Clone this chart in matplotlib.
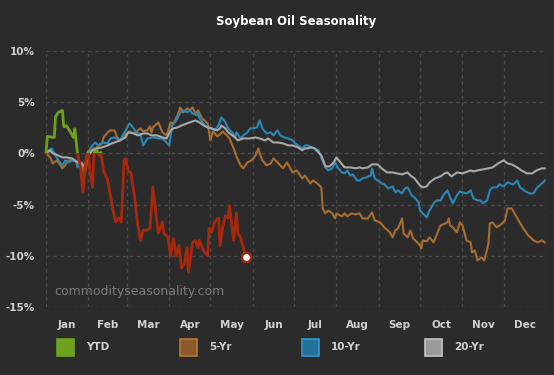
import matplotlib
matplotlib.use("Agg")
import matplotlib.pyplot as plt
from matplotlib.patches import Rectangle

# chart data (day of year, % change from Jan 1)
month_names = ["Jan", "Feb", "Mar", "Apr", "May", "Jun",
               "Jul", "Aug", "Sep", "Oct", "Nov", "Dec"]
month_starts = [0, 31, 59, 90, 120, 151, 181, 212, 243, 273, 304, 334, 365]
y_ticks = [-15, -10, -5, 0, 5, 10]

ytd_days = [0, 1, 6, 7, 9, 12, 13, 15, 18, 20,
            21, 23, 25, 27, 29, 31, 32, 34, 35, 37,
            39, 40, 42, 45, 47, 49, 51, 53, 55, 57,
            58, 60, 62, 65, 67, 69, 71, 74, 76, 78,
            82, 85, 86, 89, 91, 93, 95, 97, 99, 101,
            103, 104, 107, 109, 111, 112, 115, 118, 119, 121,
            123, 126, 127, 129, 131, 133, 134, 137, 139, 140,
            142, 144, 146]
ytd_vals = [0, 1.66, 1.56, 3.6, 4.0, 4.2, 2.6, 2.7, 2.05, 1.56,
            2.4, 0, -1.2, -3.8, -0.7, 0.2, -1.7, -3.3, 0, 0.3,
            -0.2, 0.1, -1.7, -2.6, -4.1, -5.6, -6.7, -6.3, -6.7, -0.7,
            -0.5, -1.7, -1.9, -4.6, -7.0, -8.5, -7.5, -7.5, -7.3, -3.3,
            -7.8, -6.7, -7.8, -8.2, -10.0, -8.3, -10.0, -9.0, -11.2, -10.7,
            -9.2, -11.6, -8.7, -8.5, -9.2, -8.5, -9.5, -10.0, -7.3, -7.7,
            -6.7, -6.3, -9.0, -7.2, -6.1, -6.3, -5.1, -8.5, -5.8, -7.8,
            -8.2, -9.2, -10.1]

yr5_days = [0, 3, 5, 8, 12, 14, 16, 21, 25, 27,
            28, 31, 32, 37, 41, 42, 45, 47, 50, 52,
            54, 56, 59, 61, 64, 66, 69, 71, 74, 76,
            77, 78, 82, 85, 88, 91, 93, 96, 98, 100,
            103, 105, 107, 109, 111, 114, 118, 120, 122, 125,
            127, 129, 132, 134, 137, 139, 142, 144, 147, 150,
            153, 155, 156, 158, 161, 164, 166, 169, 171, 173,
            176, 178, 180, 183, 187, 189, 193, 195, 198, 201,
            202, 204, 206, 209, 211, 212, 216, 218, 220, 223,
            226, 229, 231, 235, 238, 240, 244, 247, 251, 253,
            255, 257, 260, 261, 264, 266, 268, 271, 273, 274,
            275, 278, 280, 283, 285, 288, 290, 293, 294, 295,
            297, 300, 302, 304, 307, 310, 311, 313, 315, 318,
            320, 323, 324, 326, 329, 333, 335, 337, 340, 342,
            345, 348, 352, 356, 359, 362, 364]
yr5_vals = [0, -0.39, -0.98, -0.68, -1.46, -1.17, -0.68, -0.68, -0.98, -1.37,
            -2.34, 0.1, 0.29, 0.59, 0.98, 1.56, 2.05, 2.25, 2.25, 1.56,
            1.27, 1.56, 1.95, 2.15, 1.95, 2.15, 2.44, 2.15, 2.25, 2.64,
            2.05, 2.54, 3.03, 2.05, 1.76, 3.03, 2.93, 3.71, 4.49, 4.0,
            4.39, 4.2, 4.49, 3.9, 4.2, 3.42, 2.93, 1.27, 2.15, 1.66,
            1.86, 2.15, 1.76, 1.46, 0.49, -0.29, -1.17, -1.46, -0.88, -0.68,
            -0.2, 0.49, 0, -0.68, -1.17, -0.98, -0.49, -0.88, -1.17, -1.46,
            -0.88, -1.37, -1.86, -1.66, -2.44, -2.15, -2.93, -2.64, -2.93, -3.32,
            -5.37, -5.86, -5.57, -5.86, -6.35, -5.86, -6.15, -5.86, -6.15, -5.86,
            -5.96, -5.86, -6.35, -6.35, -5.76, -6.54, -6.74, -7.23, -7.71, -8.2,
            -7.52, -7.32, -6.35, -7.81, -8.2, -7.52, -8.3, -8.69, -8.98, -9.28,
            -8.5, -8.59, -8.2, -8.69, -8.01, -7.03, -6.93, -6.74, -6.35, -7.03,
            -7.23, -7.71, -6.74, -7.03, -8.5, -8.69, -9.67, -9.47, -10.45, -10.16,
            -10.45, -8.79, -6.84, -6.74, -7.23, -6.84, -6.54, -5.37, -5.37, -5.86,
            -6.54, -7.23, -8.01, -8.5, -8.69, -8.5, -8.69]

yr10_days = [0, 2, 4, 7, 9, 12, 14, 16, 20, 22,
             23, 26, 28, 30, 34, 36, 38, 41, 45, 47,
             50, 54, 56, 59, 61, 64, 66, 69, 71, 74,
             78, 82, 85, 88, 90, 92, 94, 96, 98, 100,
             103, 105, 107, 110, 111, 112, 116, 118, 121, 123,
             126, 128, 131, 133, 136, 138, 139, 142, 144, 147,
             149, 151, 154, 156, 158, 161, 164, 166, 169, 171,
             174, 177, 180, 182, 184, 187, 189, 191, 194, 196,
             199, 201, 204, 206, 209, 211, 213, 216, 218, 220,
             222, 224, 227, 229, 231, 234, 237, 238, 240, 242,
             245, 247, 250, 253, 255, 257, 260, 262, 264, 267,
             269, 272, 273, 275, 278, 280, 283, 285, 288, 290,
             293, 295, 297, 300, 302, 304, 307, 310, 312, 315,
             317, 319, 322, 324, 326, 329, 331, 334, 337, 339,
             341, 344, 346, 350, 353, 356, 358, 361, 363, 364]
yr10_vals = [0, 0.29, 0.49, -0.2, -0.68, -1.17, -0.68, -0.88, -0.68, -0.78,
             -1.37, -0.88, -1.37, 0, 0.78, 1.07, 0.78, 1.07, 0.98, 1.46,
             1.56, 1.27, 1.76, 2.44, 2.93, 2.44, 2.05, 1.86, 0.78, 1.46,
             1.56, 1.46, 1.46, 1.07, 0.78, 2.73, 3.03, 3.42, 4.0, 4.2,
             4.0, 4.2, 3.9, 3.71, 4.0, 3.42, 2.73, 2.54, 2.44, 2.25,
             2.73, 3.52, 3.03, 2.44, 2.05, 1.56, 2.05, 1.46, 1.76, 2.05,
             2.44, 2.44, 2.54, 3.22, 2.44, 1.95, 2.05, 1.76, 2.25, 1.76,
             1.56, 1.46, 1.27, 0.98, 0.78, 0.49, 0.78, 0.78, 0.59, 0.49,
             0.29, -0.39, -1.37, -1.66, -1.46, -0.88, -1.37, -1.86, -1.95, -1.66,
             -2.15, -2.05, -2.64, -2.64, -2.44, -2.34, -2.15, -1.46, -2.44, -2.64,
             -2.93, -3.03, -3.42, -3.22, -3.81, -3.61, -3.91, -3.42, -3.32, -4.1,
             -4.3, -4.79, -5.57, -5.86, -6.25, -5.57, -4.88, -4.59, -4.59, -4.1,
             -3.61, -4.3, -4.88, -4.1, -3.71, -3.81, -3.91, -3.61, -4.39, -4.59,
             -4.59, -4.88, -4.59, -3.61, -3.32, -3.32, -3.03, -3.22, -2.83, -2.93,
             -3.03, -2.64, -3.32, -3.71, -3.91, -3.91, -3.42, -3.03, -2.83, -2.64]

yr20_days = [0, 1, 3, 5, 9, 12, 15, 19, 21, 23,
             26, 28, 30, 32, 34, 38, 41, 45, 48, 50,
             54, 58, 60, 64, 67, 71, 74, 77, 81, 85,
             88, 91, 93, 96, 99, 103, 105, 109, 112, 115,
             118, 121, 125, 127, 128, 131, 133, 136, 138, 140,
             144, 149, 153, 156, 160, 162, 166, 169, 173, 177,
             180, 184, 187, 189, 191, 194, 196, 199, 201, 204,
             207, 210, 212, 215, 218, 222, 226, 229, 231, 235,
             238, 242, 245, 249, 253, 256, 260, 264, 266, 269,
             273, 275, 278, 280, 284, 288, 291, 293, 296, 300,
             304, 306, 310, 312, 315, 319, 323, 326, 330, 334,
             337, 340, 344, 347, 351, 355, 358, 362, 364]
yr20_vals = [0, 0.1, 0.29, 0, -0.2, -0.39, -0.39, -0.49, -0.68, -0.88,
             -0.98, -1.27, -0.39, 0, 0.29, 0.49, 0.59, 0.78, 0.98, 1.07,
             1.27, 1.56, 2.05, 1.95, 1.76, 1.95, 1.95, 1.76, 1.76, 1.56,
             1.46, 2.25, 2.44, 2.54, 2.73, 2.93, 3.03, 3.22, 3.03, 2.73,
             2.54, 2.44, 2.25, 2.44, 2.73, 2.44, 2.05, 1.76, 1.56, 1.27,
             1.46, 1.46, 1.56, 1.46, 1.27, 1.46, 1.07, 1.07, 0.98, 0.78,
             0.78, 0.59, 0.29, 0.49, 0.49, 0.59, 0.49, 0.1, -0.2, -1.27,
             -1.27, -0.88, -0.39, -0.88, -1.37, -1.37, -1.46, -1.37, -1.46, -1.37,
             -1.07, -1.07, -1.46, -1.86, -1.86, -1.95, -2.05, -1.86, -2.15, -2.44,
             -3.13, -3.32, -3.22, -2.83, -2.44, -2.25, -1.95, -1.86, -2.25, -1.86,
             -1.95, -1.86, -1.66, -1.76, -1.66, -1.56, -1.46, -1.37, -0.98, -0.68,
             -0.98, -1.07, -1.37, -1.66, -1.95, -1.95, -1.66, -1.46, -1.46]

legend_labels = ["YTD", "5-Yr", "10-Yr", "20-Yr"]

BG = "#2b2b2b"
GREEN = "#6ca21d"
RED = "#a8280d"
BROWN = "#a86d30"
BLUE = "#2a88b6"
GRAY = "#a8a8a8"
TEXT = "#d0d0d0"

fig = plt.figure(figsize=(5.54, 3.75), dpi=100, facecolor=BG)
ax = fig.add_axes([46 / 554, 1 - 307 / 375, 500 / 554, 256 / 375])
ax.set_facecolor(BG)

ax.plot(yr5_days, yr5_vals, color=BROWN, lw=1.5, zorder=3)
ax.plot(yr10_days, yr10_vals, color=BLUE, lw=1.5, zorder=4)
ax.plot(yr20_days, yr20_vals, color=GRAY, lw=1.5, zorder=5)

# YTD: green above zero, red below
up, = ax.plot(ytd_days, ytd_vals, color=GREEN, lw=2, zorder=6)
up.set_clip_path(Rectangle((-10, 0), 400, 50, transform=ax.transData))
down, = ax.plot(ytd_days, ytd_vals, color=RED, lw=2, zorder=6)
down.set_clip_path(Rectangle((-10, -50), 400, 50, transform=ax.transData))
ax.plot(ytd_days[-1], ytd_vals[-1], "o", ms=6.5, mfc="white", mec=RED,
        mew=1.6, zorder=7)

ax.set_xlim(0, 365)
ax.set_ylim(-15, 10)

# grid
for d in month_starts:
    ax.axvline(d, color="#4a4a4a", lw=1, ls=(0, (2.5, 2.5)), zorder=1)
for v in y_ticks:
    ax.axhline(v, color="#4a4a4a", lw=1, ls=(0, (2.5, 2.5)), zorder=1)

ax.set_yticks(y_ticks)
ax.set_yticklabels([f"{v}%" for v in y_ticks], fontweight="bold")
mids = [(month_starts[i] + month_starts[i + 1]) / 2 for i in range(12)]
ax.set_xticks(mids)
ax.set_xticklabels(month_names, fontweight="bold")
ax.tick_params(axis="both", length=0, colors=TEXT, labelsize=7.5)
ax.tick_params(axis="y", pad=8)
ax.tick_params(axis="x", pad=9)
for s in ax.spines.values():
    s.set_visible(False)

fig.text(296 / 554, 1 - 21 / 375, "Soybean Oil Seasonality", color="white",
         fontsize=8.5, fontweight="bold", ha="center", va="center")
fig.text(54 / 554, 1 - 292 / 375, "commodityseasonality.com", color="#7c7c7c",
         fontsize=9, ha="left", va="center")

# legend
fills = [GREEN, "#8c5a2a", "#237099", "#9a9a9a"]
edges = [GREEN, "#b87a38", "#3199cc", "#c4c4c4"]
box_x = [57, 180, 302, 425]
for lab, fc, ec, bx in zip(legend_labels, fills, edges, box_x):
    fig.add_artist(Rectangle((bx / 554, 1 - 356 / 375), 17 / 554, 17 / 375,
                             facecolor=fc, edgecolor=ec, lw=1.2,
                             transform=fig.transFigure))
    fig.text((bx + 29) / 554, 1 - 347 / 375, lab, color=TEXT, fontsize=7.5,
             fontweight="bold", ha="left", va="center")

fig.savefig("out.png", dpi=100, facecolor=BG)
